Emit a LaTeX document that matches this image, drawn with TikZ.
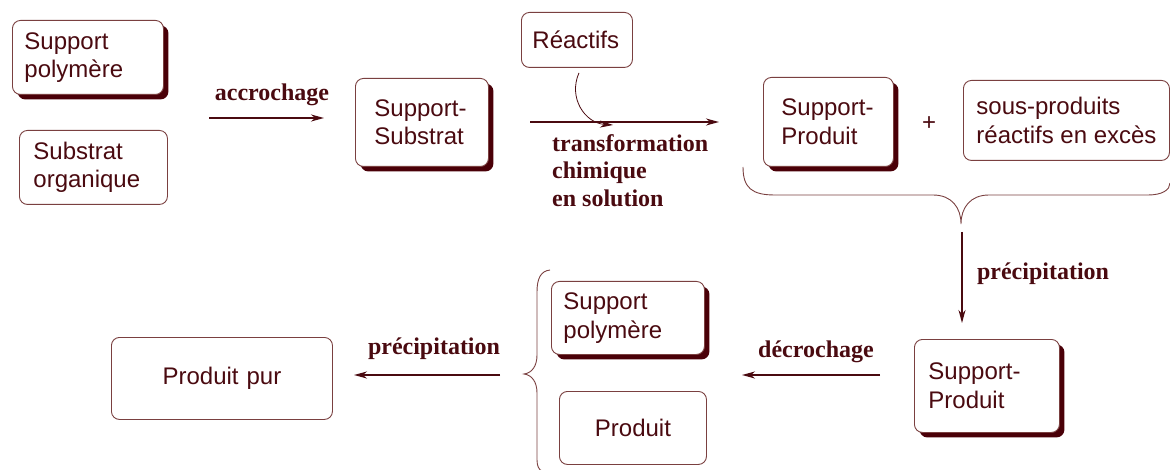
\documentclass[tikz,border=0pt]{standalone}
\usepackage{fontspec}
\setsansfont{Liberation Sans}
\setmainfont{Liberation Serif}
\usetikzlibrary{arrows.meta,shadows}
\definecolor{txt}{HTML}{4A0A10}
\definecolor{bord}{HTML}{7A4040}
\definecolor{shad}{HTML}{4A0008}
\begin{document}
\begin{tikzpicture}[x=1pt,y=-1pt,
 box/.style={draw=bord, line width=0.9pt, rounded corners=8pt, fill=white, anchor=north west, align=left, text=txt, font=\sffamily\fontsize{24}{28.5}\selectfont, inner ysep=0pt},
 sbox/.style={box, drop shadow={shadow xshift=5pt, shadow yshift=-5pt, fill=shad, opacity=1}},
 lbl/.style={text=txt, font=\rmfamily\bfseries\fontsize{24}{27.5}\selectfont, inner sep=0pt},
 arr/.style={draw=txt, line width=1.4pt, -{Stealth[length=13pt,width=7pt,inset=4pt]}},
 thinarr/.style={draw=txt, line width=0.8pt, -{Stealth[length=13pt,width=7pt,inset=4pt]}},
 brace/.style={draw=bord, line width=0.9pt}]
\useasboundingbox (0,0) rectangle (1170,470);
% boxes
\node[sbox, inner xsep=12pt, text width=127pt, minimum height=74pt] (sp1) at (12,20) {Support\\polymère};
\node[box, inner xsep=14pt, text width=120pt, minimum height=74pt] (so) at (19,130) {Substrat\\organique};
\node[sbox, inner xsep=19pt, text width=95pt, minimum height=88pt] (ss) at (355,78) {Support-\\Substrat};
\node[box, inner xsep=11pt, text width=89pt, minimum height=55pt] (reac) at (521,12) {Réactifs};
\node[sbox, inner xsep=18pt, text width=94pt, minimum height=89pt] (spr1) at (763,77) {Support-\\Produit};
\node[text=txt, font=\sffamily\fontsize{24}{28}\selectfont] (plus) at (929,124) {+};
\node[box, inner xsep=4pt, minimum width=206pt, minimum height=80pt] (sous) at (963,80) {sous-produits\\réactifs en excès};
\node[sbox, inner xsep=14pt, text width=117pt, minimum height=93pt] (spr2) at (914,339) {Support-\\Produit};
\node[sbox, inner xsep=12pt, text width=129pt, minimum height=73pt] (sp2) at (551,281) {Support\\polymère};
\node[box, align=center, inner xsep=10pt, text width=127pt, minimum height=73pt] (prod) at (559,391) {Produit};
\node[box, align=center, inner xsep=10pt, text width=201pt, minimum height=82pt] (pur) at (111,337) {Produit pur};
% coordinates
\coordinate (a1s) at (209,118);
\coordinate (a1e) at (324,118);
\coordinate (a2s) at (530,122);
\coordinate (a2e) at (719,122);
\coordinate (rc) at (613,125);
\coordinate (a3s) at (962,232);
\coordinate (a3e) at (962,323);
\coordinate (a4s) at (880,375);
\coordinate (a4e) at (742,375);
\coordinate (a5s) at (500,375);
\coordinate (a5e) at (354,375);
% arrows
\draw[arr] (a1s) -- (a1e);
\node[lbl, anchor=base] (l1) at (272,101) {accrochage};
\draw[arr] (a2s) -- (a2e);
\draw[thinarr] ([xshift=2pt,yshift=-5pt]reac.south) .. controls (568,98) and (585,123) .. (rc);
\node[lbl, align=left, anchor=north west] (l2) at (552,134) {transformation\\chimique\\en solution};
\draw[arr] (a3s) -- (a3e);
\node[lbl, anchor=base] (l3) at (1043,280) {précipitation};
\draw[arr] (a4s) -- (a4e);
\node[lbl, anchor=base] (l4) at (816,357) {décrochage};
\draw[arr] (a5s) -- (a5e);
\node[lbl, anchor=base] (l5) at (434,354) {précipitation};
% braces
\draw[brace] (743,167) .. controls (743,188) and (752,195) .. (775,195) -- (933,195) .. controls (952,195) and (961,208) .. (961,224) .. controls (961,208) and (970,195) .. (989,195) -- (1148,195) .. controls (1162,195) and (1170,190) .. (1170,183);
\draw[brace] (550,270) .. controls (541,271) and (537,278) .. (537,292) -- (537,355) .. controls (537,366) and (532,373) .. (524,374) .. controls (532,375) and (537,382) .. (537,393) -- (537,460) .. controls (537,466) and (539,470) .. (542,471);
\end{tikzpicture}
\end{document}
